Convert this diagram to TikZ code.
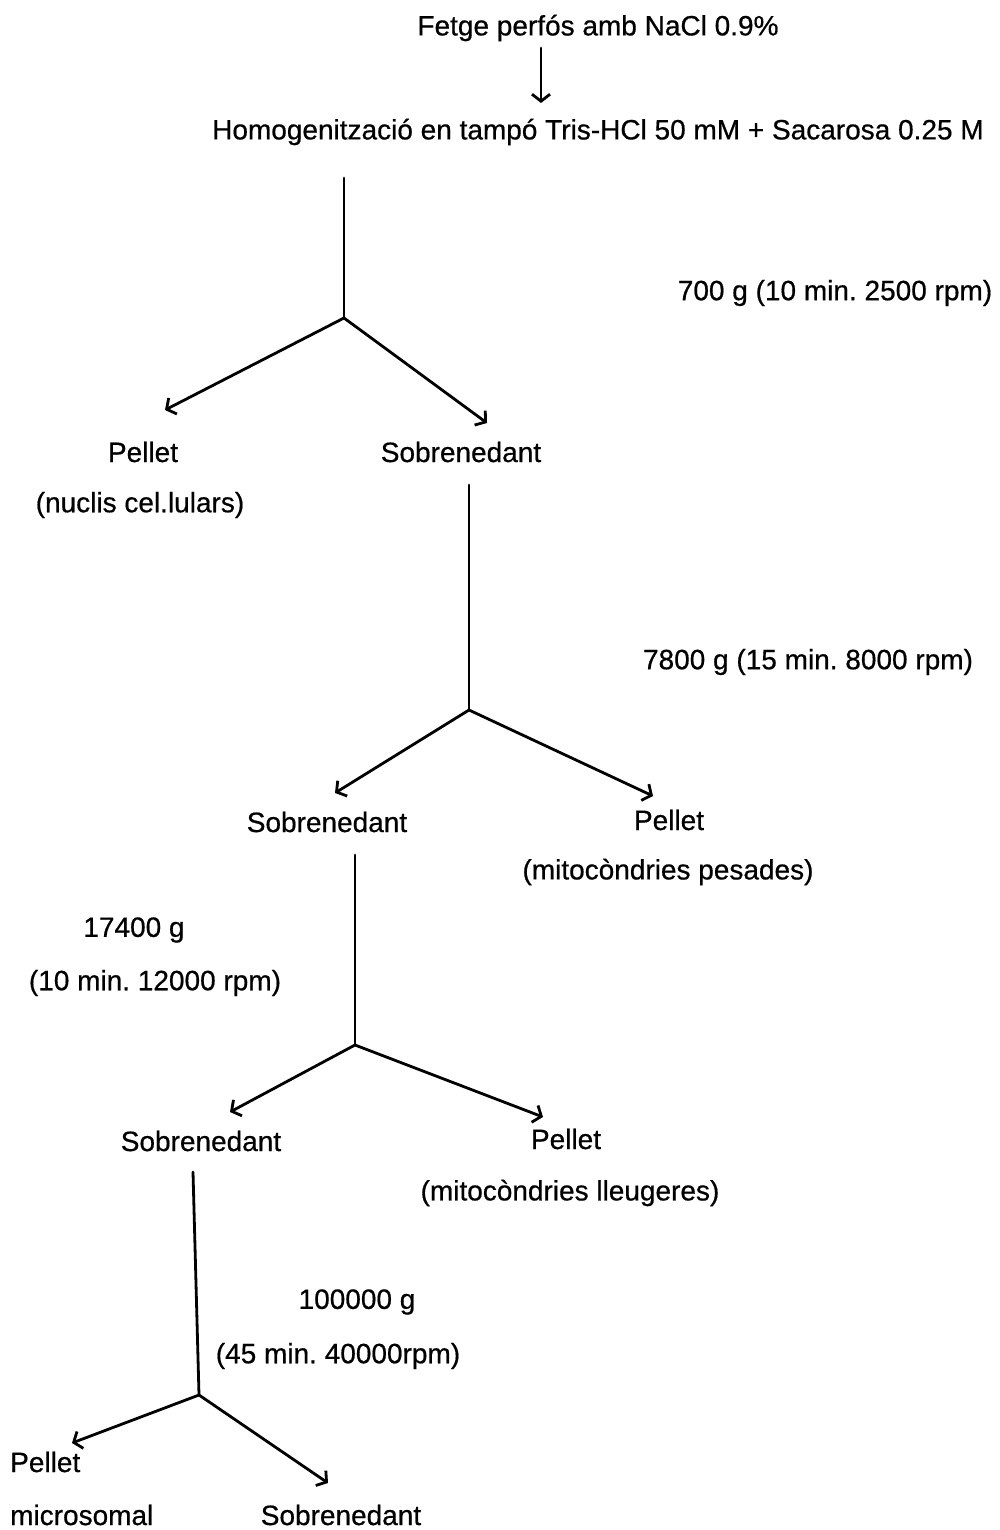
\documentclass[tikz,border=0pt]{standalone}
\usepackage{fontspec}
\setmainfont[FakeBold=0.6]{Liberation Sans}
\usetikzlibrary{arrows.meta}
\frenchspacing
\begin{document}
\begin{tikzpicture}[x=1pt,y=-1pt,
  lbl/.style={inner sep=0pt,font=\fontsize{28}{32}\selectfont},
  ln/.style={line width=2.8pt,line cap=round},
  arr/.style={ln,-{Straight Barb[length=7pt,width=18pt,line width=2.8pt]}}]
\useasboundingbox[fill=white] (0,0) rectangle (1000,1530);
% texts
\node[lbl] (fetge) at (598,28) {Fetge perfós amb NaCl 0.9\%};
\node[lbl] (homo) at (598,132) {Homogenització en tampó Tris-HCl 50 mM + Sacarosa 0.25 M};
\node[lbl] (c1) at (835,293) {700 g (10 min. 2500 rpm)};
\node[lbl] (p1) at (143,452) {Pellet};
\node[lbl] (p1b) at (140,505) {(nuclis cel.lulars)};
\node[lbl] (s1) at (461,452) {Sobrenedant};
\node[lbl] (c2) at (808,662) {7800 g (15 min. 8000 rpm)};
\node[lbl] (s2) at (327,822) {Sobrenedant};
\node[lbl] (p2) at (669,820) {Pellet};
\node[lbl] (p2b) at (668,872) {(mitocòndries pesades)};
\node[lbl] (c3a) at (134,930) {17400 g};
\node[lbl] (c3b) at (155,983) {(10 min. 12000 rpm)};
\node[lbl] (s3) at (201,1141) {Sobrenedant};
\node[lbl] (p3) at (566,1139) {Pellet};
\node[lbl] (p3b) at (570,1193) {(mitocòndries lleugeres)};
\node[lbl] (c4a) at (357,1302) {100000 g};
\node[lbl] (c4b) at (338,1356) {(45 min. 40000rpm)};
\node[lbl,anchor=west] (p4) at (10,1462) {Pellet};
\node[lbl,anchor=west] (p4b) at (10,1515) {microsomal};
\node[lbl] (s4) at (341,1515) {Sobrenedant};
% coordinates
\coordinate (a0s) at (541,48);
\coordinate (a0e) at (541,103);
\coordinate (v1s) at (344,178);
\coordinate (j1) at (344,318);
\coordinate (e1a) at (165,410);
\coordinate (e1b) at (487,423);
\coordinate (v2s) at (469,485);
\coordinate (j2) at (469,710);
\coordinate (e2a) at (335,793);
\coordinate (e2b) at (653,796);
\coordinate (v3s) at (355,855);
\coordinate (j3) at (355,1045);
\coordinate (e3a) at (230,1112);
\coordinate (e3b) at (543,1117);
\coordinate (v4s) at (193,1172);
\coordinate (j4) at (199,1395);
\coordinate (e4a) at (72,1443);
\coordinate (e4b) at (328,1483);
% connectors
\draw[arr] (a0s) -- (a0e);
\draw[ln] (v1s) -- (j1);
\draw[arr] (j1) -- (e1a);
\draw[arr] (j1) -- (e1b);
\draw[ln] (v2s) -- (j2);
\draw[arr] (j2) -- (e2a);
\draw[arr] (j2) -- (e2b);
\draw[ln] (v3s) -- (j3);
\draw[arr] (j3) -- (e3a);
\draw[arr] (j3) -- (e3b);
\draw[ln] (v4s) -- (j4);
\draw[arr] (j4) -- (e4a);
\draw[arr] (j4) -- (e4b);
\end{tikzpicture}
\end{document}
